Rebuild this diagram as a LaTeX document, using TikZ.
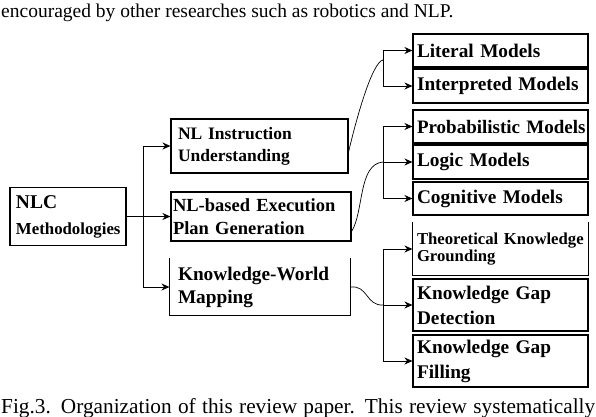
\documentclass[tikz,border=0pt]{standalone}
\usepackage{fontspec}
\setmainfont{Liberation Serif}
\usepackage{tikz}
\usetikzlibrary{arrows.meta, positioning}

\begin{document}
\begin{tikzpicture}[x=1pt, y=-1pt,
  box/.style={draw, line width=1.1pt, inner xsep=0pt, inner ysep=0pt, align=left,
    execute at begin node={\hyphenpenalty=10000\relax\exhyphenpenalty=10000\relax}},
  openbox/.style={box, draw=none},
  fs/.style 2 args={font=\bfseries\fontsize{#1}{#2}\selectfont},
  link/.style={line width=0.9pt, -{Stealth[length=8pt, width=7pt]}},
  wire/.style={line width=0.7pt}]
  \useasboundingbox (0,0) rectangle (596,416);
  % running text around the figure
  \node[anchor=base west, inner sep=0pt, font=\fontsize{19.5}{23}\selectfont] (prevline) at (1,17)
    {encouraged by other researches such as robotics and NLP.};
  \node[anchor=base west, inner sep=0pt, font=\fontsize{21.3}{25}\selectfont] (caption) at (1,413)
    {\makebox[594pt][s]{Fig.3. Organization of this review paper. This review systematically}};
  % root and first level
  \node[box, fs={16.8}{26}, minimum width=116, minimum height=58, text width=104] (nlc) at (68,216.5)
    {{\fontsize{19.5}{26}\selectfont NLC}\\Methodologies};
  \node[box, fs={17.5}{22}, minimum width=177, minimum height=54, text width=163] (inst) at (259.5,146)
    {NL~Instruction\\Understanding};
  \node[box, fs={18.5}{23}, minimum width=180, minimum height=49, text width=176] (plan) at (261,216.5)
    {NL-based~Execution\\Plan~Generation};
  \node[openbox, fs={19.3}{23}, minimum width=180, minimum height=56, text width=164] (kwm) at (260,287)
    {Knowledge-World\\Mapping};
  \draw[line width=1.1pt] (kwm.north west) -- (kwm.south west) -- (kwm.south east) -- (kwm.north east);
  % second level
  \node[box, fs={19.3}{23}, minimum width=175, minimum height=33, text width=167] (lit) at (500.5,50.5) {Literal~Models};
  \node[box, fs={19.3}{23}, minimum width=175, minimum height=34, text width=167] (int) at (500.5,86) {Interpreted~Models};
  \node[box, fs={19}{23}, minimum width=175, minimum height=33, text width=167] (prob) at (500.5,126.5) {Probabilistic~Models};
  \node[box, fs={19.3}{23}, minimum width=175, minimum height=34, text width=167] (logic) at (500.5,162) {Logic~Models};
  \node[box, fs={19.3}{23}, minimum width=175, minimum height=33, text width=167] (cog) at (500.5,198.5) {Cognitive~Models};
  \node[openbox, fs={16.7}{17}, minimum width=175, minimum height=52, text width=167] (theo) at (500.5,249)
    {Theoretical~Knowledge\\Grounding};
  \draw[line width=1.1pt] (theo.north west) -- (theo.south west) -- (theo.south east) -- (theo.north east);
  \node[box, fs={19.3}{25}, minimum width=175, minimum height=52, text width=167] (gapd) at (500.5,305)
    {Knowledge~Gap\\Detection};
  \node[box, fs={19.3}{25}, minimum width=175, minimum height=52, text width=167] (gapf) at (500.5,361)
    {Knowledge~Gap\\Filling};
  % root branches
  \coordinate (ltrunk) at (143,216.5);
  \draw[link] (nlc.east) -- (nlc.east -| plan.west);
  \draw[link] (ltrunk) |- (inst.west);
  \draw[link] (ltrunk) |- (kwm.west);
  % model branches
  \coordinate (rj1) at (383,68);
  \coordinate (c1) at (383,60);
  \draw[link] (rj1) |- (lit.west);
  \draw[link] (rj1) |- (int.west);
  \draw[wire] ([yshift=-6pt]inst.east) .. controls (356,120) and (372,62) .. (c1);
  \coordinate (rj2) at (383,162);
  \draw[link] (rj2) |- (prob.west);
  \draw[link] (rj2) -- (logic.west);
  \draw[link] (rj2) |- (cog.west);
  \draw[wire] ([yshift=-15pt]plan.east) .. controls (364,212) and (358,164) .. (rj2);
  % knowledge branches
  \coordinate (rj3) at (383,305);
  \draw[link] (rj3) |- (theo.west);
  \draw[link] (rj3) -- (gapd.west);
  \draw[link] (rj3) |- (gapf.west);
  \draw[wire] (kwm.east) .. controls (368,285) and (366,306) .. (rj3);
\end{tikzpicture}
\end{document}
